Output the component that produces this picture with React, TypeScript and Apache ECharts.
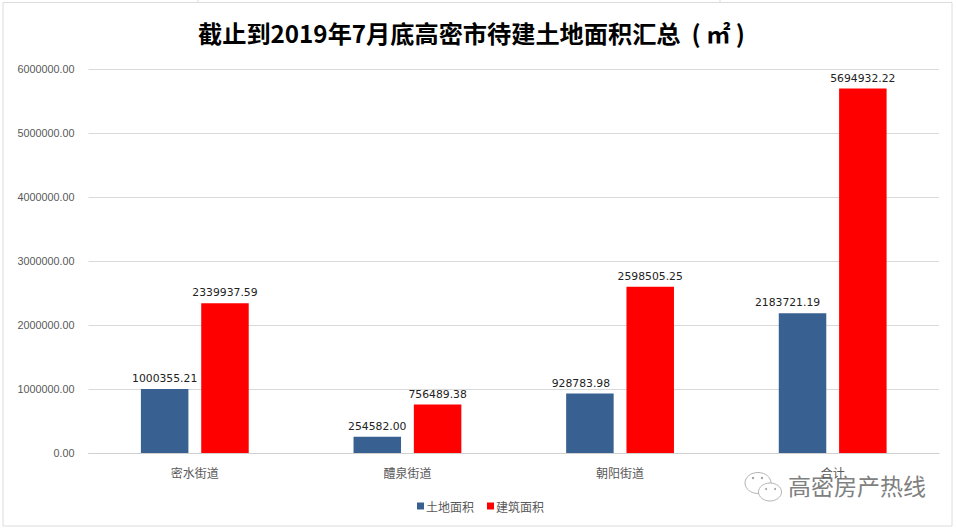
import React, { useEffect, useRef } from "react";
import * as echarts from "echarts";

const categories = ["密水街道", "醴泉街道", "朝阳街道", "合计"];
const landArea = [1000355.21, 254582.0, 928783.98, 2183721.19];
const buildArea = [2339937.59, 756489.38, 2598505.25, 5694932.22];
const seriesNames = ["土地面积", "建筑面积"];
const chartTitle = "截止到2019年7月底高密市待建土地面积汇总  ( ㎡ )";
const watermark = "高密房产热线";

const CJK = "'Noto Sans CJK SC', sans-serif";

export default function App() {
  const ref = useRef<HTMLDivElement>(null);
  useEffect(() => {
    document.body.style.margin = "0";
    const chart = echarts.init(ref.current!, undefined, { renderer: "svg" });
    const labelStyle = {
      show: true,
      position: "top" as const,
      distance: 5,
      fontFamily: "'DejaVu Sans', sans-serif",
      fontSize: 10.8,
      color: "#222",
      formatter: (p: any) => Number(p.value).toFixed(2),
    };
    const sheetLine = { stroke: "#dcdcdc", lineWidth: 1 };
    const iconLine = { stroke: "#b4b4b4", fill: "transparent", lineWidth: 1 };
    const iconDot = { fill: "#a0a0a0" };
    chart.setOption({
      animation: false,
      backgroundColor: "#ffffff",
      title: {
        text: chartTitle,
        left: 193,
        top: 15,
        textAlign: "left",
        textStyle: { fontFamily: CJK, fontWeight: "bold", fontSize: 24.2, color: "#000" },
      },
      grid: { left: 88.5, right: 17, top: 69, bottom: 75 },
      legend: {
        data: seriesNames,
        bottom: 11,
        left: 412,
        itemWidth: 7,
        itemHeight: 7,
        itemGap: 13,
        icon: "rect",
        textStyle: { fontFamily: CJK, fontSize: 12, color: "#595959", padding: [0, 0, 0, -3] },
      },
      xAxis: {
        type: "category",
        data: categories,
        axisTick: { show: false },
        axisLine: { lineStyle: { color: "#d0d0d0" } },
        axisLabel: { fontFamily: CJK, fontSize: 12, color: "#595959", margin: 13 },
      },
      yAxis: {
        type: "value",
        min: 0,
        max: 6000000,
        interval: 1000000,
        axisLine: { show: false },
        axisTick: { show: false },
        splitLine: { lineStyle: { color: "#d9d9d9" } },
        axisLabel: {
          fontFamily: "'Liberation Sans', sans-serif",
          fontSize: 10.8,
          color: "#595959",
          margin: 14,
          formatter: (v: number) => v.toFixed(2),
        },
      },
      series: [
        {
          name: seriesNames[0],
          type: "bar",
          data: landArea.map((value, i) =>
            i === 2
              ? { value, label: { offset: [-9, 0] } }
              : i === 3
                ? { value, label: { offset: [-15, 0] } }
                : value
          ),
          barWidth: 47.5,
          barGap: "27%",
          itemStyle: { color: "#386090" },
          label: labelStyle,
        },
        {
          name: seriesNames[1],
          type: "bar",
          data: buildArea,
          barWidth: 47.5,
          itemStyle: { color: "#ff0000" },
          label: labelStyle,
        },
      ],
      graphic: [
        { type: "line", silent: true, shape: { x1: 3, y1: 2.5, x2: 952, y2: 2.5 }, style: sheetLine },
        { type: "line", silent: true, shape: { x1: 3, y1: 2.5, x2: 3, y2: 526 }, style: sheetLine },
        { type: "line", silent: true, shape: { x1: 952, y1: 2.5, x2: 952, y2: 526 }, style: sheetLine },
        { type: "line", silent: true, shape: { x1: 3, y1: 526, x2: 952, y2: 526 }, style: sheetLine },
        { type: "line", silent: true, shape: { x1: 198, y1: 0, x2: 198, y2: 2 }, style: sheetLine },
        { type: "line", silent: true, shape: { x1: 720, y1: 0, x2: 720, y2: 2 }, style: sheetLine },
        { type: "ellipse", silent: true, shape: { cx: 758, cy: 483, rx: 13, ry: 10.5 }, style: iconLine },
        { type: "ellipse", silent: true, shape: { cx: 770, cy: 492, rx: 11.5, ry: 9 }, style: { stroke: "#b4b4b4", fill: "#ffffff", lineWidth: 1 } },
        { type: "circle", silent: true, shape: { cx: 753, cy: 478, r: 1.2 }, style: iconDot },
        { type: "circle", silent: true, shape: { cx: 762, cy: 478, r: 1.2 }, style: iconDot },
        { type: "circle", silent: true, shape: { cx: 766, cy: 489, r: 1 }, style: iconDot },
        { type: "circle", silent: true, shape: { cx: 775, cy: 489, r: 1 }, style: iconDot },
        {
          type: "text",
          silent: true,
          x: 788,
          y: 473,
          style: { text: watermark, fontFamily: CJK, fontSize: 23, fill: "#808080" },
        },
      ],
    });
    return () => chart.dispose();
  }, []);
  return <div ref={ref} style={{ width: 956, height: 528 }} />;
}
